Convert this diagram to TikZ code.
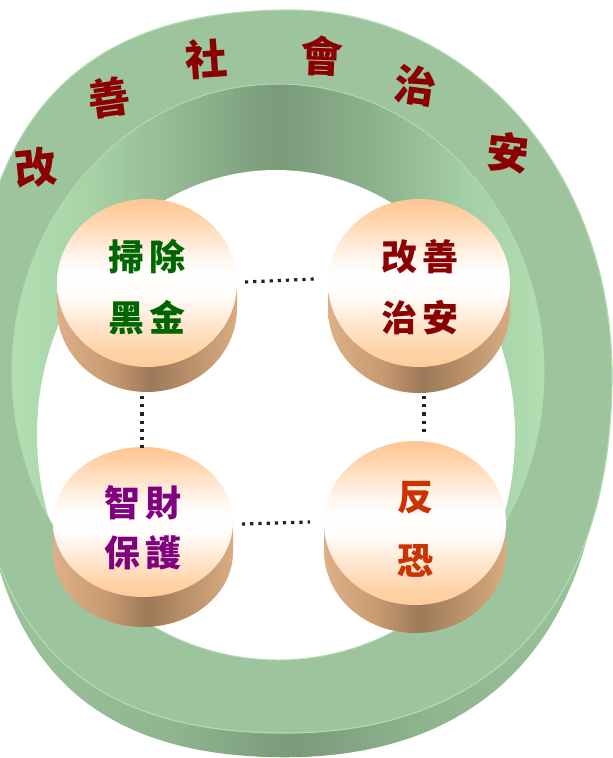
\documentclass[tikz,border=0pt]{standalone}
\usepackage{fontspec}
\newfontfamily\cjk{Noto Sans CJK TC}
\definecolor{face}{HTML}{9DC49D}
\definecolor{rim}{HTML}{B2DAB2}
\definecolor{darkred}{HTML}{8B0000}
\definecolor{cgreen}{HTML}{006600}
\definecolor{cpurple}{HTML}{800080}
\definecolor{corange}{HTML}{CC3300}
\definecolor{dotc}{HTML}{222222}
% inner wall
\definecolor{iwa}{HTML}{B2E0B2}
\definecolor{iwb}{HTML}{A6D2A6}
\definecolor{iwc}{HTML}{94BA94}
\definecolor{iwd}{HTML}{7A9A7A}
\definecolor{iwe}{HTML}{8FB48F}
\definecolor{iwf}{HTML}{A4CEA4}
\definecolor{iwg}{HTML}{B2DEB2}
% outer wall
\definecolor{owa}{HTML}{9DC49D}
\definecolor{owb}{HTML}{90B690}
\definecolor{owc}{HTML}{7A9A7A}
\definecolor{owd}{HTML}{8EB28E}
% cylinder top
\definecolor{pa}{HTML}{FFCC9B}
\definecolor{pb}{HTML}{FFD4A8}
\definecolor{pc}{HTML}{FFE6CF}
\definecolor{pd}{HTML}{FFFCF9}
\definecolor{pe}{HTML}{FFF6EE}
\definecolor{pf}{HTML}{FFD4AC}
\definecolor{pg}{HTML}{FFC690}
% cylinder side
\definecolor{sa}{HTML}{DDB088}
\definecolor{sb}{HTML}{C89A70}
\definecolor{sc}{HTML}{9D795A}
\definecolor{sd}{HTML}{B48C66}
\definecolor{se}{HTML}{D8AC80}
\pgfdeclarehorizontalshading{innerwall}{100bp}{color(0bp)=(iwa); color(25bp)=(iwa); color(32.5bp)=(iwb); color(40bp)=(iwc); color(50bp)=(iwd); color(60bp)=(iwe); color(67.5bp)=(iwf); color(75bp)=(iwg); color(100bp)=(iwg)}
\pgfdeclarehorizontalshading{outerwall}{100bp}{color(0bp)=(owa); color(25bp)=(owa); color(40bp)=(owb); color(50bp)=(owc); color(60bp)=(owd); color(75bp)=(owa); color(100bp)=(owa)}
\pgfdeclareverticalshading{cyltop}{100bp}{color(0bp)=(pa); color(25bp)=(pa); color(30bp)=(pb); color(37.5bp)=(pc); color(46bp)=(pd); color(52.5bp)=(white); color(57.5bp)=(pe); color(69bp)=(pf); color(75bp)=(pg); color(100bp)=(pg)}
\pgfdeclarehorizontalshading{cylside}{100bp}{color(0bp)=(sa); color(25bp)=(sa); color(40bp)=(sb); color(51bp)=(sc); color(60bp)=(sd); color(75bp)=(se); color(100bp)=(se)}
\begin{document}
\begin{tikzpicture}[x=1pt,y=-1pt,
  titlech/.style={font=\cjk\bfseries\fontsize{42}{42}\selectfont, text=darkred, inner sep=0pt},
  cyltext/.style={font=\cjk\bfseries\fontsize{36}{36}\selectfont, inner sep=0pt},
  dotline/.style={draw=dotc, line width=3.2pt, dash pattern=on 3.2pt off 5pt},
  sideshade/.style={shading=cylside, shading angle=0},
  topshade/.style={shading=cyltop, shading angle=0},
]
\useasboundingbox (0,0) rectangle (613,758);
\clip (0,0) rectangle (613,758);
% outer wall
\begin{scope}[shift={(0,35)}, scale around={0.97:(290,375)}]
\shade[shading=outerwall, shading angle=0] (290,10) .. controls (470,10) and (612,171) .. (612,375) .. controls (612,604) and (494,733) .. (285,733) .. controls (70,733) and (-30,620) .. (-30,375) .. controls (-30,127) and (72,10) .. (290,10) -- cycle;
\end{scope}
% top face
\fill[face] (290,10) .. controls (470,10) and (612,171) .. (612,375) .. controls (612,604) and (494,733) .. (285,733) .. controls (70,733) and (-30,620) .. (-30,375) .. controls (-30,127) and (72,10) .. (290,10) -- cycle;
\draw[rim, line width=1.2pt] (290,10) .. controls (470,10) and (612,171) .. (612,375) .. controls (612,604) and (494,733) .. (285,733) .. controls (70,733) and (-30,620) .. (-30,375) .. controls (-30,127) and (72,10) .. (290,10) -- cycle;
% inner wall
\shade[shading=innerwall, shading angle=0] (278,372) ellipse [x radius=266pt, y radius=288pt];
\begin{scope}
\clip (278,372) ellipse [x radius=266pt, y radius=288pt];
\fill[white] (276,435) ellipse [x radius=239pt, y radius=265pt];
\end{scope}
\draw[rim, line width=1pt] (278,372) ellipse [x radius=266pt, y radius=288pt];
% title
\node[titlech, rotate=6] (t1) at (36,167) {改};
\node[titlech, rotate=8] (t2) at (109,98) {善};
\node[titlech, rotate=4] (t3) at (206,59) {社};
\node[titlech, rotate=-2] (t4) at (322,56) {會};
\node[titlech, rotate=-8] (t5) at (416,86) {治};
\node[titlech, rotate=-6] (t6) at (508,153) {安};
% cylinders
% C1
\shade[sideshade] (147,308) ellipse [x radius=90pt, y radius=84pt];
\shade[sideshade] (57,283) rectangle (237,308);
\shade[topshade] (147,283) ellipse [x radius=90pt, y radius=84pt];
% C2
\shade[sideshade] (419,309) ellipse [x radius=91pt, y radius=84pt];
\shade[sideshade] (328,283) rectangle (510,309);
\shade[topshade] (419,283) ellipse [x radius=91pt, y radius=84pt];
% C3
\shade[sideshade] (143,552) ellipse [x radius=90pt, y radius=75pt];
\shade[sideshade] (53,522) rectangle (233,552);
\shade[topshade] (143,522) ellipse [x radius=90pt, y radius=75pt];
% C4
\shade[sideshade] (415,551) ellipse [x radius=91pt, y radius=82pt];
\shade[sideshade] (324,523) rectangle (506,551);
\shade[topshade] (415,523) ellipse [x radius=91pt, y radius=82pt];
% texts
\node[cyltext, text=cgreen] (c1a) at (147,257) {掃\hspace{6pt}除};
\node[cyltext, text=cgreen] (c1b) at (147,318) {黑\hspace{6pt}金};
\node[cyltext, text=darkred] (c2a) at (420,257) {改\hspace{6pt}善};
\node[cyltext, text=darkred] (c2b) at (420,318) {治\hspace{6pt}安};
\node[cyltext, text=cpurple] (c3a) at (143,503) {智\hspace{6pt}財};
\node[cyltext, text=cpurple] (c3b) at (143,553) {保\hspace{6pt}護};
\node[cyltext, text=corange] (c4a) at (415,498) {反};
\node[cyltext, text=corange] (c4b) at (415,561) {恐};
% connectors
\coordinate (h1a) at (245,282);
\coordinate (h1b) at (314,279);
\coordinate (h2a) at (242,524);
\coordinate (h2b) at (310,522);
\coordinate (v1a) at (142,396);
\coordinate (v1b) at (142,448);
\coordinate (v2a) at (424,396);
\coordinate (v2b) at (424,434);
\draw[dotline] (h1a) -- (h1b);
\draw[dotline] (h2a) -- (h2b);
\draw[dotline] (v1a) -- (v1b);
\draw[dotline] (v2a) -- (v2b);
\end{tikzpicture}
\end{document}
